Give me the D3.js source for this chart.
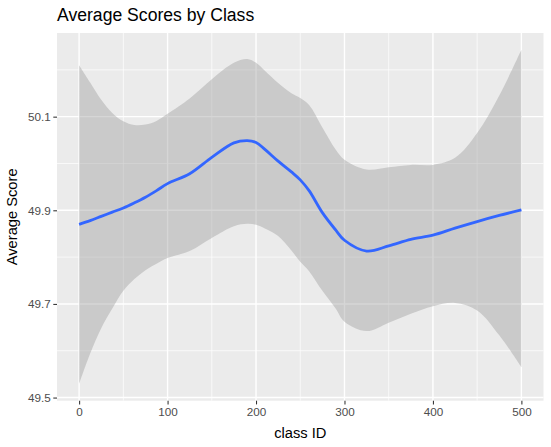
<!DOCTYPE html>
<html><head><meta charset="utf-8">
<script src="https://cdn.jsdelivr.net/npm/d3@7"></script>
<style>body{margin:0;background:#fff}svg{display:block}</style>
</head><body>
<script>
// Data (loess fit with confidence band)
const classId = [0,12.5,25,37.5,50,62.5,75,87.5,100,125,150,175,190,200,210,225,240,250,260,275,290,300,325,350,375,400,425,450,475,500];
const fitScore = [49.870,49.878,49.887,49.896,49.905,49.916,49.928,49.942,49.957,49.978,50.013,50.044,50.049,50.045,50.030,50.005,49.982,49.965,49.942,49.895,49.858,49.836,49.813,49.824,49.838,49.847,49.862,49.876,49.889,49.901];
const lowerScore = [49.529,49.594,49.648,49.690,49.728,49.753,49.772,49.786,49.798,49.813,49.841,49.866,49.871,49.869,49.861,49.845,49.814,49.790,49.770,49.728,49.690,49.662,49.642,49.660,49.679,49.695,49.702,49.686,49.633,49.565];
const upperScore = [50.210,50.173,50.136,50.108,50.090,50.082,50.083,50.091,50.106,50.139,50.180,50.215,50.223,50.215,50.198,50.172,50.150,50.140,50.125,50.077,50.030,50.008,49.987,49.992,49.997,49.997,50.012,50.065,50.145,50.243];
const xTicks = [0,100,200,300,400,500];
const xMinor = [50,150,250,350,450];
const yTicks = [49.5,49.7,49.9,50.1];
const yMinor = [49.6,49.8,50.0,50.2];

const rows = classId.map((c,i)=>({x:c, y:fitScore[i], lo:lowerScore[i], hi:upperScore[i]}));

const W=551,H=447;
const m={left:57,right:7.5,top:33,bottom:46.3};
const svg=d3.select("body").append("svg").attr("width",W).attr("height",H);

const xmin=d3.min(classId), xmax=d3.max(classId);
const ymin=d3.min(lowerScore), ymax=d3.max(upperScore);
const xe=(xmax-xmin)*0.05, ye=(ymax-ymin)*0.05;
const x=d3.scaleLinear().domain([xmin-xe,xmax+xe]).range([m.left,W-m.right]);
const y=d3.scaleLinear().domain([ymin-ye,ymax+ye]).range([H-m.bottom,m.top]);

const pw=W-m.right-m.left, ph=H-m.bottom-m.top;
svg.append("rect").attr("x",m.left).attr("y",m.top).attr("width",pw).attr("height",ph).attr("fill","#ebebeb");

const g=svg.append("g");
g.selectAll(".xm").data(xMinor).join("line").attr("x1",d=>x(d)).attr("x2",d=>x(d)).attr("y1",m.top).attr("y2",m.top+ph).attr("stroke","#fff").attr("stroke-width",0.7);
g.selectAll(".ym").data(yMinor).join("line").attr("y1",d=>y(d)).attr("y2",d=>y(d)).attr("x1",m.left).attr("x2",m.left+pw).attr("stroke","#fff").attr("stroke-width",0.7);
g.selectAll(".xM").data(xTicks).join("line").attr("x1",d=>x(d)).attr("x2",d=>x(d)).attr("y1",m.top).attr("y2",m.top+ph).attr("stroke","#fff").attr("stroke-width",1.4);
g.selectAll(".yM").data(yTicks).join("line").attr("y1",d=>y(d)).attr("y2",d=>y(d)).attr("x1",m.left).attr("x2",m.left+pw).attr("stroke","#fff").attr("stroke-width",1.4);

const curve=d3.curveCatmullRom.alpha(0.5);
svg.append("path").datum(rows)
  .attr("d",d3.area().x(d=>x(d.x)).y0(d=>y(d.lo)).y1(d=>y(d.hi)).curve(curve))
  .attr("fill","#999999").attr("fill-opacity",0.4);
svg.append("path").datum(rows)
  .attr("d",d3.line().x(d=>x(d.x)).y(d=>y(d.y)).curve(curve))
  .attr("fill","none").attr("stroke","#3366FF").attr("stroke-width",2.8);

const font="'Liberation Sans', Arial, Helvetica, sans-serif";
const xAxis=svg.append("g").attr("transform",`translate(0,${m.top+ph})`)
  .call(d3.axisBottom(x).tickValues(xTicks).tickSize(3.7).tickPadding(3).tickFormat(d3.format("d")));
const yAxis=svg.append("g").attr("transform",`translate(${m.left},0)`)
  .call(d3.axisLeft(y).tickValues(yTicks).tickSize(3.7).tickPadding(2.5).tickFormat(d3.format(".1f")));
[xAxis,yAxis].forEach(a=>{
  a.select(".domain").remove();
  a.selectAll(".tick line").attr("stroke","#333333").attr("stroke-width",1.07);
  a.selectAll(".tick text").attr("fill","#4d4d4d").style("font-family",font).style("font-size","11.7px");
});

svg.append("text").attr("x",m.left).attr("y",21).text("Average Scores by Class")
  .style("font-family",font).style("font-size","17.6px").attr("fill","#000");
svg.append("text").attr("x",m.left+pw/2).attr("y",437.5).attr("text-anchor","middle").text("class ID")
  .style("font-family",font).style("font-size","14.7px").attr("fill","#000");
svg.append("text").attr("transform",`translate(17,${m.top+ph/2}) rotate(-90)`).attr("text-anchor","middle").text("Average Score")
  .style("font-family",font).style("font-size","14.7px").attr("fill","#000");
</script>
</body></html>
